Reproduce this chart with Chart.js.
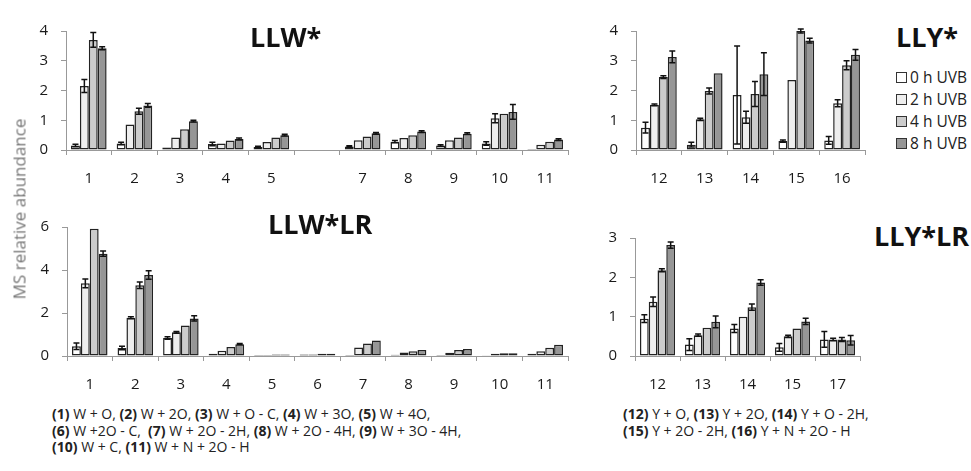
<!DOCTYPE html>
<html>
<head>
<meta charset="utf-8">
<script src="https://cdn.jsdelivr.net/npm/chart.js@4.4.1/dist/chart.umd.min.js"></script>
<style>
  body { margin: 0; background: #fff; width: 971px; height: 471px; overflow: hidden; position: relative; font-family: 'Open Sans', sans-serif; }
  canvas { position: absolute; }
  .ttl { position: absolute; font-weight: bold; font-size: 27px; color: #111; line-height: 1; white-space: nowrap; }
  .note { position: absolute; font-size: 14px; color: #222; line-height: 16.5px; white-space: nowrap; letter-spacing: 0; }
  .note b { font-weight: bold; }
  #ylab { position: absolute; left: 19px; top: 209px; transform: translate(-50%, -50%) rotate(-90deg); font-size: 17px; color: #777; white-space: nowrap; }
  #legend { position: absolute; left: 896px; top: 66px; font-size: 15.5px; color: #222; }
  #legend div { height: 22px; display: flex; align-items: center; white-space: nowrap; }
  #legend span.box { width: 9px; height: 9px; border: 1.5px solid #333; margin-right: 3px; display: inline-block; }
</style>
</head>
<body>
<canvas id="c1"></canvas>
<canvas id="c2"></canvas>
<canvas id="c3"></canvas>
<canvas id="c4"></canvas>
<div id="ylab">MS relative abundance</div>
<div class="ttl" style="left:250px;top:23px">LLW*</div>
<div class="ttl" style="left:896px;top:23px">LLY*</div>
<div class="ttl" style="left:268px;top:210px">LLW*LR</div>
<div class="ttl" style="left:874px;top:222px">LLY*LR</div>
<div id="legend"></div>
<div class="note" style="left:52px;top:406px">
  <b>(1)</b> W + O, <b>(2)</b> W + 2O, <b>(3)</b> W + O - C, <b>(4)</b> W + 3O, <b>(5)</b> W + 4O,<br>
  <b>(6)</b> W +2O - C,&nbsp; <b>(7)</b> W + 2O - 2H, <b>(8)</b> W + 2O - 4H, <b>(9)</b> W + 3O - 4H,<br>
  <b>(10)</b> W + C, <b>(11)</b> W + N + 2O - H
</div>
<div class="note" style="left:623px;top:406px">
  <b>(12)</b> Y + O, <b>(13)</b> Y + 2O, <b>(14)</b> Y + O - 2H,<br>
  <b>(15)</b> Y + 2O - 2H, <b>(16)</b> Y + N + 2O - H
</div>
<script>
const seriesNames = ['0 h UVB', '2 h UVB', '4 h UVB', '8 h UVB'];
const seriesColors = ['#ffffff', '#eeeeee', '#cccccc', '#969696'];

// LLW*
const llwCats = ['1', '2', '3', '4', '5', '', '7', '8', '9', '10', '11'];
const llw0 = [0.15, 0.22, 0.08, 0.2, 0.1, null, 0.12, 0.28, 0.15, 0.22, 0.03];
const llw2 = [2.15, 0.86, 0.42, 0.22, 0.27, null, 0.33, 0.4, 0.33, 1.07, 0.18];
const llw4 = [3.7, 1.3, 0.7, 0.32, 0.42, null, 0.45, 0.5, 0.42, 1.22, 0.28];
const llw8 = [3.42, 1.5, 0.97, 0.37, 0.5, null, 0.56, 0.62, 0.55, 1.28, 0.35];
const llw0err = [0.04, 0.04, 0, 0.06, 0.03, 0, 0.02, 0.04, 0.03, 0.06, 0];
const llw2err = [0.22, 0, 0, 0, 0, 0, 0, 0, 0, 0.15, 0];
const llw4err = [0.25, 0.1, 0, 0, 0, 0, 0, 0, 0, 0, 0];
const llw8err = [0.05, 0.06, 0.03, 0.03, 0.03, 0, 0.03, 0.03, 0.03, 0.25, 0.03];

// LLY*
const llyCats = ['12', '13', '14', '15', '16'];
const lly0 = [0.75, 0.18, 1.85, 0.3, 0.32];
const lly2 = [1.52, 1.03, 1.1, 2.35, 1.57];
const lly4 = [2.45, 1.98, 1.88, 4.0, 2.85];
const lly8 = [3.13, 2.58, 2.55, 3.68, 3.2];
const lly0err = [0.18, 0.08, 1.65, 0.04, 0.13];
const lly2err = [0.03, 0.04, 0.2, 0, 0.12];
const lly4err = [0.05, 0.1, 0.42, 0.07, 0.15];
const lly8err = [0.2, 0, 0.72, 0.08, 0.18];

// LLW*LR
const llwlrCats = ['1', '2', '3', '4', '5', '6', '7', '8', '9', '10', '11'];
const llwlr0 = [0.45, 0.37, 0.84, 0.1, 0.05, 0.07, 0.05, 0.06, 0.05, 0.04, 0.1];
const llwlr2 = [3.38, 1.78, 1.1, 0.25, 0.05, 0.07, 0.4, 0.16, 0.15, 0.1, 0.22];
const llwlr4 = [5.92, 3.29, 1.42, 0.42, 0.07, 0.1, 0.58, 0.22, 0.28, 0.13, 0.38];
const llwlr8 = [4.76, 3.77, 1.75, 0.55, 0.07, 0.1, 0.72, 0.28, 0.32, 0.13, 0.52];
const llwlr0err = [0.15, 0.08, 0.06, 0, 0, 0, 0, 0, 0, 0, 0];
const llwlr2err = [0.2, 0.05, 0.04, 0, 0, 0, 0, 0, 0, 0, 0];
const llwlr4err = [0, 0.15, 0, 0, 0, 0, 0, 0, 0, 0, 0];
const llwlr8err = [0.12, 0.2, 0.12, 0.03, 0, 0, 0, 0, 0, 0, 0];

// LLY*LR
const llylrCats = ['12', '13', '14', '15', '17'];
const llylr0 = [0.95, 0.29, 0.7, 0.22, 0.42];
const llylr2 = [1.38, 0.53, 1.0, 0.5, 0.42];
const llylr4 = [2.18, 0.72, 1.24, 0.7, 0.42];
const llylr8 = [2.82, 0.87, 1.87, 0.88, 0.4];
const llylr0err = [0.1, 0.15, 0.1, 0.1, 0.2];
const llylr2err = [0.12, 0.03, 0, 0.03, 0.03];
const llylr4err = [0.04, 0, 0.08, 0, 0.05];
const llylr8err = [0.08, 0.15, 0.07, 0.08, 0.12];

const FONT = 'Open Sans';

// error bars drawn from the errs arrays through the y scale
const errorBars = {
  id: 'errorBars',
  afterDatasetsDraw(chart) {
    const ctx = chart.ctx;
    const y = chart.scales.y;
    ctx.save();
    ctx.strokeStyle = '#111';
    ctx.lineWidth = 1.5;
    chart.data.datasets.forEach((ds, di) => {
      const meta = chart.getDatasetMeta(di);
      meta.data.forEach((bar, i) => {
        const v = ds.data[i];
        const e = ds.errs ? ds.errs[i] : 0;
        if (v == null || !e) return;
        const top = y.getPixelForValue(v + e);
        const bot = y.getPixelForValue(Math.max(0, v - e));
        const w = 3;
        ctx.beginPath();
        ctx.moveTo(bar.x, top); ctx.lineTo(bar.x, bot);
        ctx.moveTo(bar.x - w, top); ctx.lineTo(bar.x + w, top);
        ctx.moveTo(bar.x - w, bot); ctx.lineTo(bar.x + w, bot);
        ctx.stroke();
      });
    });
    ctx.restore();
  }
};

function makePanel(id, area, cats, vals, errs, ymax, step) {
  const yW = 40, xH = 45, padTop = 12, padRight = 4;
  const cv = document.getElementById(id);
  const w = area.r - area.l + yW + padRight;
  const h = area.b - area.t + padTop + xH;
  cv.width = w; cv.height = h;
  cv.style.left = (area.l - yW) + 'px';
  cv.style.top = (area.t - padTop) + 'px';
  return new Chart(cv, {
    type: 'bar',
    data: {
      labels: cats,
      datasets: vals.map((d, k) => ({
        label: seriesNames[k],
        data: d,
        errs: errs[k],
        backgroundColor: seriesColors[k],
        borderColor: '#222',
        borderWidth: 1.5,
        borderSkipped: false,
        barPercentage: 1,
        categoryPercentage: 0.78
      }))
    },
    options: {
      responsive: false,
      animation: false,
      layout: { padding: { top: padTop, right: padRight, left: 0, bottom: 0 } },
      plugins: { legend: { display: false }, tooltip: { enabled: false } },
      scales: {
        x: {
          grid: { drawOnChartArea: false, drawTicks: true, tickLength: 5, color: '#999', offset: true },
          border: { color: '#999', width: 1 },
          ticks: { color: '#1a1a1a', font: { family: FONT, size: 15 }, padding: 15, autoSkip: false, maxRotation: 0 },
          afterFit: s => { s.height = xH; }
        },
        y: {
          min: 0, max: ymax,
          grid: { drawOnChartArea: false, drawTicks: true, tickLength: 5, color: '#999' },
          border: { color: '#999', width: 1 },
          ticks: { stepSize: step, color: '#1a1a1a', font: { family: FONT, size: 15 }, padding: 13 },
          afterFit: s => { s.width = yW; }
        }
      }
    },
    plugins: [errorBars]
  });
}

makePanel('c1', { l: 66, t: 21, r: 568, b: 150 }, llwCats,
  [llw0, llw2, llw4, llw8], [llw0err, llw2err, llw4err, llw8err], 4, 1);
makePanel('c2', { l: 636, t: 21, r: 865, b: 150 }, llyCats,
  [lly0, lly2, lly4, lly8], [lly0err, lly2err, lly4err, lly8err], 4, 1);
makePanel('c3', { l: 67, t: 217, r: 568, b: 356 }, llwlrCats,
  [llwlr0, llwlr2, llwlr4, llwlr8], [llwlr0err, llwlr2err, llwlr4err, llwlr8err], 6, 2);
makePanel('c4', { l: 635, t: 228, r: 860, b: 356 }, llylrCats,
  [llylr0, llylr2, llylr4, llylr8], [llylr0err, llylr2err, llylr4err, llylr8err], 3, 1);

// legend built from the series arrays
const legend = document.getElementById('legend');
seriesNames.forEach((name, k) => {
  const row = document.createElement('div');
  const box = document.createElement('span');
  box.className = 'box';
  box.style.background = seriesColors[k];
  row.appendChild(box);
  row.appendChild(document.createTextNode(name));
  legend.appendChild(row);
});
</script>
</body>
</html>
